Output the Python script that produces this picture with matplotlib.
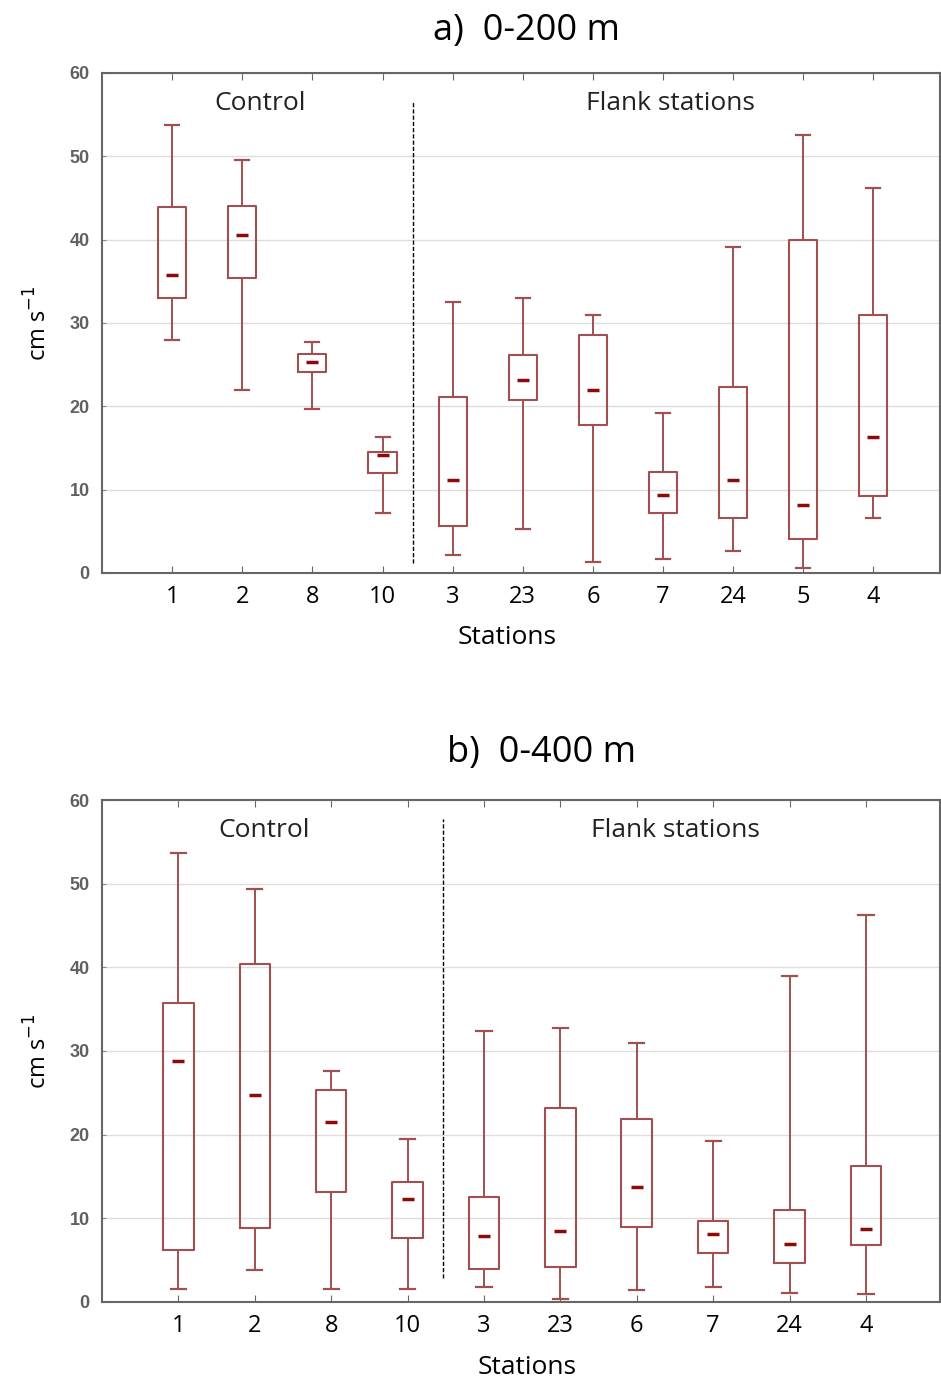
import matplotlib.pyplot as plt
import numpy as np

# panel a) 0-200 m
st_a = ['1', '2', '8', '10', '3', '23', '6', '7', '24', '5', '4']
lo_a = [28.0, 21.9, 19.7, 7.2, 2.1, 5.3, 1.3, 1.7, 2.6, 0.6, 6.6]
q1_a = [33.0, 35.4, 24.1, 12.0, 5.6, 20.8, 17.8, 7.2, 6.6, 4.1, 9.2]
med_a = [35.7, 40.5, 25.3, 14.1, 11.1, 23.2, 22.0, 9.4, 11.1, 8.2, 16.3]
q3_a = [43.9, 44.0, 26.3, 14.5, 21.1, 26.1, 28.5, 12.1, 22.3, 40.0, 31.0]
hi_a = [53.7, 49.5, 27.7, 16.3, 32.5, 33.0, 30.9, 19.2, 39.1, 52.5, 46.2]

# panel b) 0-400 m
st_b = ['1', '2', '8', '10', '3', '23', '6', '7', '24', '4']
lo_b = [1.5, 3.8, 1.5, 1.6, 1.8, 0.4, 1.4, 1.8, 1.1, 1.0]
q1_b = [6.2, 8.9, 13.1, 7.6, 4.0, 4.2, 9.0, 5.9, 4.6, 6.8]
med_b = [28.8, 24.7, 21.5, 12.3, 7.9, 8.5, 13.7, 8.1, 6.9, 8.7]
q3_b = [35.7, 40.4, 25.3, 14.4, 12.6, 23.2, 21.9, 9.7, 11.0, 16.3]
hi_b = [53.7, 49.4, 27.6, 19.5, 32.4, 32.8, 30.9, 19.2, 39.0, 46.2]

box_col = '#a05050'
med_col = '#8b0a0a'
font = 'Open Sans'

fig = plt.figure(figsize=(9.41, 13.87), dpi=100)
ax_a = fig.add_axes([0.1084, 0.5869, 0.8906, 0.3605])
ax_b = fig.add_axes([0.1084, 0.0613, 0.8906, 0.3619])


def draw(ax, st, lo, q1, med, q3, hi, xmax, split, ctrl_x, flank_x, lab_x):
    pos = np.arange(1, len(st) + 1)
    stats = [dict(whislo=a, q1=b, med=c, q3=d, whishi=e, fliers=[])
             for a, b, c, d, e in zip(lo, q1, med, q3, hi)]
    ax.bxp(stats, positions=pos, widths=0.4, showfliers=False,
           boxprops=dict(color=box_col, lw=1.5),
           whiskerprops=dict(color=box_col, lw=1.4),
           capprops=dict(color=box_col, lw=1.6),
           medianprops=dict(visible=False), capwidths=0.2)
    ax.plot(pos, med, ls='none', marker='_', ms=9, mew=2.5, color=med_col)
    ax.set_xlim(0, xmax)
    ax.set_ylim(0, 60)
    ax.set_yticks([0, 10, 20, 30, 40, 50, 60])
    ax.set_xticks(pos)
    ax.set_xticklabels(st, fontsize=17, family=font)
    ax.yaxis.grid(True, color='#dddddd', lw=1)
    ax.set_axisbelow(True)
    ax.tick_params(axis='x', direction='in', length=5, color='#666666',
                   top=True, pad=9)
    ax.tick_params(axis='y', direction='in', length=3, color='#888888',
                   labelsize=13, labelcolor='#606060', pad=9)
    for t in ax.get_yticklabels():
        t.set_family('Liberation Sans')
        t.set_fontweight('bold')
    for s in ax.spines.values():
        s.set_color('#666666')
        s.set_linewidth(1.5)
    ax.axvline(split[0], ymin=split[1] / 60, ymax=split[2] / 60,
               color='black', ls=(0, (3, 1.5)), lw=1)
    ax.text(ctrl_x, 56.3, 'Control', fontsize=19, family=font,
            ha='center', va='center', color='#222222')
    ax.text(flank_x, 56.3, 'Flank stations', fontsize=19, family=font,
            ha='center', va='center', color='#222222')
    ax.set_xlabel('Stations', fontsize=19, family=font)
    ax.xaxis.set_label_coords(lab_x, -0.105)
    ax.set_ylabel('cm s$^{-1}$', fontsize=17, family=font, labelpad=12)


draw(ax_a, st_a, lo_a, q1_a, med_a, q3_a, hi_a, 11.95, (4.44, 1.2, 56.5), 2.25, 8.1, 0.483)
draw(ax_b, st_b, lo_b, q1_b, med_b, q3_b, hi_b, 10.97, (4.47, 2.9, 57.7), 2.12, 7.5, 0.507)

fig.text(0.559, 0.978, 'a)  0-200 m', fontsize=26, family=font, ha='center', va='center')
fig.text(0.575, 0.457, 'b)  0-400 m', fontsize=26, family=font, ha='center', va='center')

fig.savefig('out.png', dpi=100)
